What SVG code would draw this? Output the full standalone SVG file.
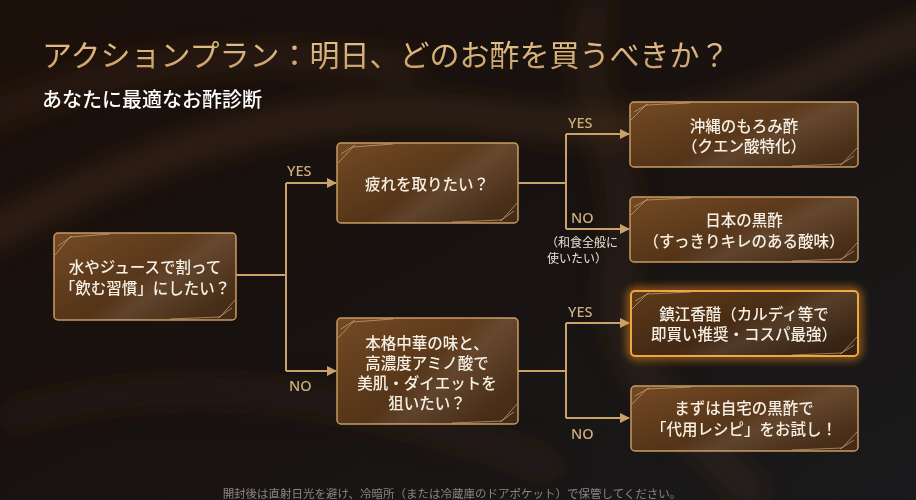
<svg xmlns="http://www.w3.org/2000/svg" width="916" height="500" viewBox="0 0 916 500">
<defs>
<linearGradient id="bg" x1="0" y1="0" x2="1" y2="1">
<stop offset="0" stop-color="#1c100a"/>
<stop offset="0.5" stop-color="#181210"/>
<stop offset="1" stop-color="#1a1a1c"/>
</linearGradient>
<linearGradient id="nodeFill" x1="0" y1="0" x2="1" y2="1">
<stop offset="0" stop-color="#744a24"/>
<stop offset="0.5" stop-color="#573619"/>
<stop offset="1" stop-color="#3e2512"/>
</linearGradient>
<linearGradient id="gloss" x1="0" y1="0" x2="1" y2="0.6">
<stop offset="0" stop-color="#ffffff" stop-opacity="0"/>
<stop offset="0.55" stop-color="#ffffff" stop-opacity="0"/>
<stop offset="0.7" stop-color="#ffffff" stop-opacity="0.09"/>
<stop offset="1" stop-color="#ffffff" stop-opacity="0.02"/>
</linearGradient>
<linearGradient id="hiFill" x1="0" y1="0" x2="1" y2="1">
<stop offset="0" stop-color="#5e3a1a"/>
<stop offset="1" stop-color="#2e1c0e"/>
</linearGradient>
<linearGradient id="titleG" x1="0" y1="0" x2="0" y2="1">
<stop offset="0" stop-color="#ecca94"/>
<stop offset="1" stop-color="#c49a62"/>
</linearGradient>
<filter id="blur" x="-20%" y="-20%" width="140%" height="140%"><feGaussianBlur stdDeviation="14"/></filter>
<filter id="glow" x="-20%" y="-40%" width="140%" height="180%"><feGaussianBlur stdDeviation="5"/></filter>
<marker id="arr" viewBox="0 0 10 10" refX="9" refY="5" markerWidth="5" markerHeight="5" orient="auto" markerUnits="strokeWidth">
<path d="M0,0 L10,5 L0,10 z" fill="#c9a16b"/>
</marker>
<style>
.node rect.b{fill:url(#nodeFill);stroke:#c79a62;stroke-width:1.5}
.node rect.g{fill:url(#gloss)}
.node path.d{fill:none;stroke:#d8b07a;stroke-width:0.8;opacity:0.8}
.node text{font-family:"Noto Sans CJK JP","Noto Sans",sans-serif;font-size:15.5px;font-weight:500;fill:#f6efe4;text-anchor:middle;dominant-baseline:central}
.conn path{fill:none;stroke:#c9a16b;stroke-width:2}
.lbl{font-family:"Noto Sans","Noto Sans CJK JP",sans-serif;font-size:14.5px;font-weight:500;fill:#cfae7e;dominant-baseline:central}
.note{font-family:"Noto Sans CJK JP",sans-serif;font-size:12px;fill:#e8e0d4}
</style>
</defs>
<rect width="916" height="500" fill="url(#bg)"/>
<g filter="url(#blur)" fill="none">
<path d="M-40,250 C150,150 300,90 520,120 S800,60 960,20" stroke="#6b4422" stroke-width="22" opacity="0.38"/>
<path d="M600,0 C560,80 640,160 620,260 S680,420 760,500" stroke="#5a3a1e" stroke-width="30" opacity="0.25"/>
<path d="M-20,120 C120,60 260,40 420,70" stroke="#7a5028" stroke-width="14" opacity="0.3"/>
<path d="M0,420 C200,360 380,400 560,470" stroke="#4a2e16" stroke-width="26" opacity="0.3"/>
</g>
<text x="42" y="66" font-family="Noto Sans CJK JP, sans-serif" font-size="30" font-weight="400" fill="url(#titleG)">アクションプラン：明日、どのお酢を買うべきか？</text>
<text x="42" y="107" font-family="Noto Sans CJK JP, sans-serif" font-size="20" font-weight="500" fill="#ffffff">あなたに最適なお酢診断</text>

<g class="conn">
<path d="M236,275 H286"/>
<path d="M286,183 V371"/>
<path d="M286,183 H336" marker-end="url(#arr)"/>
<path d="M286,371 H336" marker-end="url(#arr)"/>
<path d="M518,183 H566"/>
<path d="M566,134 V229"/>
<path d="M566,134 H629" marker-end="url(#arr)"/>
<path d="M566,229 H629" marker-end="url(#arr)"/>
<path d="M518,371 H566"/>
<path d="M566,323 V418"/>
<path d="M566,323 H629" marker-end="url(#arr)"/>
<path d="M566,418 H629" marker-end="url(#arr)"/>
</g>
<g>
<text class="lbl" x="287" y="170">YES</text>
<text class="lbl" x="289" y="385">NO</text>
<text class="lbl" x="568" y="122">YES</text>
<text class="lbl" x="571" y="217">NO</text>
<text class="lbl" x="568" y="311">YES</text>
<text class="lbl" x="571" y="433">NO</text>
<text class="note" x="546" y="247">（和食全般に</text>
<text class="note" x="547" y="263">使いたい）</text>
</g>

<g id="n-root" class="node">
<rect class="b" x="54" y="233" width="182" height="87" rx="4"/>
<rect class="g" x="54" y="233" width="182" height="87" rx="4"/>
<path class="d" d="M55,255 L70,237 L110,234 M58,246 L72,236 M235,300 L220,317 L170,319 M232,308 L218,318"/>
<text x="145" y="266">水やジュースで割って</text>
<text x="145" y="287">「飲む習慣」にしたい？</text>
</g>
<g id="n-tired" class="node">
<rect class="b" x="337" y="143" width="181" height="80" rx="4"/>
<rect class="g" x="337" y="143" width="181" height="80" rx="4"/>
<path class="d" d="M338,163 L353,147 L393,144 M341,154 L355,145 M517,203 L502,220 L452,222 M514,211 L500,221"/>
<text x="427" y="183">疲れを取りたい？</text>
</g>
<g id="n-chinese" class="node">
<rect class="b" x="337" y="318" width="181" height="106" rx="4"/>
<rect class="g" x="337" y="318" width="181" height="106" rx="4"/>
<path class="d" d="M338,338 L353,322 L393,319 M341,329 L355,320 M517,404 L502,421 L452,423 M514,412 L500,422"/>
<text x="427" y="342">本格中華の味と、</text>
<text x="427" y="362">高濃度アミノ酸で</text>
<text x="427" y="382">美肌・ダイエットを</text>
<text x="427" y="402">狙いたい？</text>
</g>
<g id="n-okinawa" class="node">
<rect class="b" x="630" y="102" width="228" height="65" rx="4"/>
<rect class="g" x="630" y="102" width="228" height="65" rx="4"/>
<path class="d" d="M631,120 L646,105 L690,103 M634,112 L648,104 M857,148 L842,164 L792,166 M854,156 L840,165"/>
<text x="744" y="125">沖縄のもろみ酢</text>
<text x="744" y="145">（クエン酸特化）</text>
</g>
<g id="n-kurozu" class="node">
<rect class="b" x="630" y="197" width="228" height="65" rx="4"/>
<rect class="g" x="630" y="197" width="228" height="65" rx="4"/>
<path class="d" d="M631,215 L646,200 L690,198 M634,207 L648,199 M857,243 L842,259 L792,261 M854,251 L840,260"/>
<text x="744" y="219">日本の黒酢</text>
<text x="744" y="240">（すっきりキレのある酸味）</text>
</g>
<g id="n-chinkiang" class="node">
<rect x="631" y="291" width="227" height="65" rx="5" fill="none" stroke="#ff9a20" stroke-width="6" opacity="0.75" filter="url(#glow)"/>
<rect x="631" y="291" width="227" height="65" rx="4" fill="url(#hiFill)" stroke="#f2a53c" stroke-width="2"/>
<rect class="g" x="631" y="291" width="227" height="65" rx="4"/>
<path class="d" d="M632,309 L647,294 L691,292 M635,301 L649,293 M857,337 L842,353 L792,355 M854,345 L840,354"/>
<text x="744" y="313">鎮江香醋（カルディ等で</text>
<text x="744" y="333">即買い推奨・コスパ最強）</text>
</g>
<g id="n-home" class="node">
<rect class="b" x="631" y="386" width="227" height="65" rx="4"/>
<rect class="g" x="631" y="386" width="227" height="65" rx="4"/>
<path class="d" d="M632,404 L647,389 L691,387 M635,396 L649,388 M857,432 L842,448 L792,450 M854,440 L840,449"/>
<text x="744" y="407">まずは自宅の黒酢で</text>
<text x="744" y="428">「代用レシピ」をお試し！</text>
</g>

<text x="452" y="493" font-family="Noto Sans CJK JP, sans-serif" font-size="11.5" fill="#8a8580" text-anchor="middle" dominant-baseline="central">開封後は直射日光を避け、冷暗所（または冷蔵庫のドアポケット）で保管してください。</text>
</svg>
